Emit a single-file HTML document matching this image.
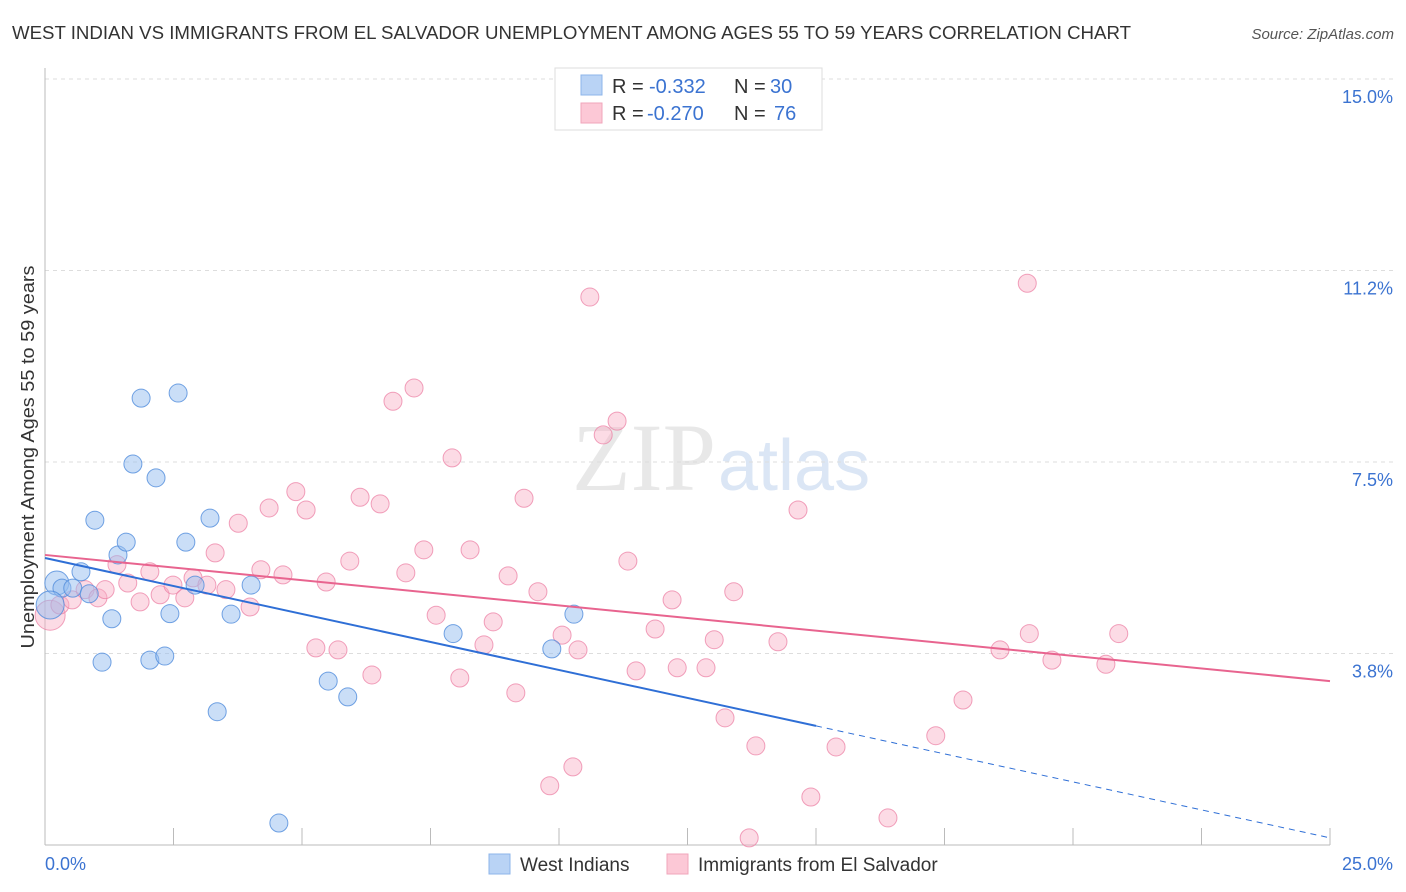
<!DOCTYPE html>
<html><head><meta charset="utf-8">
<style>
body{margin:0;background:#fff;font-family:"Liberation Sans",sans-serif;}
svg{display:block}
</style></head>
<body>
<svg id="chart" width="1406" height="892">
<text x="12" y="39" font-size="18" fill="#333" textLength="1119" lengthAdjust="spacingAndGlyphs">WEST INDIAN VS IMMIGRANTS FROM EL SALVADOR UNEMPLOYMENT AMONG AGES 55 TO 59 YEARS CORRELATION CHART</text>
<text x="1394" y="39" font-size="15" fill="#555" text-anchor="end" font-style="italic">Source: ZipAtlas.com</text>
<text x="716" y="490" font-size="96" fill="#e8e8e8" text-anchor="end" font-family="Liberation Serif">ZIP</text>
<text x="718" y="490" font-size="72" fill="#dbe6f5">atlas</text>
<g id="grid"></g>
<g id="marks"></g>
<text transform="translate(34,457) rotate(-90)" font-size="18" fill="#333" text-anchor="middle" textLength="383" lengthAdjust="spacingAndGlyphs">Unemployment Among Ages 55 to 59 years</text>
<g>
<rect x="555" y="68" width="267" height="62" fill="#fff" stroke="#ddd"/>
<rect x="581" y="75" width="21" height="20" fill="#b9d3f5" stroke="#8db4ea"/>
<rect x="581" y="103" width="21" height="20" fill="#fcc8d6" stroke="#f0a6bb"/>
<text x="612" y="93" font-size="20" fill="#333">R =</text>
<text x="649" y="93" font-size="20" fill="#3b73d1">-0.332</text>
<text x="734" y="93" font-size="20" fill="#333">N =</text>
<text x="770" y="93" font-size="20" fill="#3b73d1">30</text>
<text x="612" y="120" font-size="20" fill="#333">R =</text>
<text x="647" y="120" font-size="20" fill="#3b73d1">-0.270</text>
<text x="734" y="120" font-size="20" fill="#333">N =</text>
<text x="774" y="120" font-size="20" fill="#3b73d1">76</text>
</g>
<g>
<rect x="489" y="854" width="21" height="20" fill="#b9d3f5" stroke="#8db4ea"/>
<text x="520" y="871" font-size="19" fill="#333">West Indians</text>
<rect x="667" y="854" width="21" height="20" fill="#fcc8d6" stroke="#f0a6bb"/>
<text x="698" y="871" font-size="19" fill="#333">Immigrants from El Salvador</text>
</g>
</svg>
<script>
const yTicks=[15.0,11.25,7.5,3.75];
const yTickLabels=["15.0%","11.2%","7.5%","3.8%"];
const xTickLabels=["0.0%","25.0%"];
const blueX=[0.23,0.33,0.54,0.86,0.7,0.97,1.42,1.58,1.3,1.11,1.87,1.71,2.16,2.59,3.21,2.74,2.92,4.01,2.43,3.62,2.04,2.33,3.35,5.51,5.89,4.55,7.94,9.86,10.29,0.1];
const blueY=[5.13,5.03,5.03,4.92,5.35,6.36,5.68,5.93,4.43,3.58,8.75,7.46,7.19,8.85,6.4,5.93,5.09,5.09,4.53,4.52,3.62,3.7,2.61,3.21,2.9,0.43,4.14,3.84,4.52,4.7];
const blueR=[12,9,9,9,9,9,9,9,9,9,9,9,9,9,9,9,9,9,9,9,9,9,9,9,9,9,9,9,9,14];
const pinkX=[0.1,0.29,0.53,0.78,1.03,1.17,1.4,1.61,1.85,2.04,2.24,2.49,2.72,2.88,3.15,3.31,3.52,3.76,3.99,4.2,4.36,4.63,4.88,5.08,5.27,5.47,5.7,5.93,6.13,6.36,6.52,6.77,7.02,7.18,7.37,7.61,7.92,8.07,8.27,8.54,8.72,9.01,9.16,9.32,9.59,9.82,10.06,10.27,10.37,10.6,10.86,11.13,11.34,11.5,11.87,12.2,12.3,12.86,13.02,13.23,13.4,13.83,14.26,14.65,14.9,15.39,16.4,17.33,17.86,18.58,19.11,19.15,19.59,20.64,20.89,13.7];
const pinkY=[4.5,4.7,4.8,5.0,4.84,5.0,5.49,5.13,4.76,5.35,4.9,5.09,4.84,5.23,5.09,5.72,5.0,6.3,4.66,5.39,6.6,5.29,6.92,6.56,3.86,5.15,3.82,5.56,6.81,3.33,6.68,8.69,5.33,8.95,5.78,4.5,7.58,3.27,5.78,3.92,4.37,5.27,2.98,6.79,4.96,1.16,4.11,1.53,3.82,10.73,8.03,8.3,5.56,3.41,4.23,4.8,3.47,3.47,4.02,2.49,4.96,1.94,3.98,6.56,0.94,1.92,0.53,2.14,2.84,3.82,11.0,4.14,3.62,3.54,4.14,0.14];
const blueFit=[5.62,0.14];
const pinkFit=[5.68,3.21];
const NS="http://www.w3.org/2000/svg";
const X0=45,X1=1330,Y0=845,Y15=79;
function xs(v){return X0+(X1-X0)*v/25;}
function ys(v){return Y0-(Y0-Y15)*v/15;}
function mk(tag,attrs,parent){const e=document.createElementNS(NS,tag);for(const k in attrs)e.setAttribute(k,attrs[k]);parent.appendChild(e);return e;}
const grid=document.getElementById('grid'),marks=document.getElementById('marks');
yTicks.forEach((t,i)=>{
 const l=mk('line',{x1:X0,x2:1394,y1:ys(t),y2:ys(t),stroke:'#ddd','stroke-dasharray':'4,4'},grid);
 
 
 const tx=mk('text',{x:1393,y:ys(t)+24,'font-size':18,fill:'#3b73d1','text-anchor':'end'},grid);
 tx.textContent=yTickLabels[i];
 
 
});
const ax=mk('line',{x1:X0,x2:X0,y1:68,y2:Y0,stroke:'#bbb'},grid);


const bx=mk('line',{x1:X0,x2:X1,y1:Y0,y2:Y0,stroke:'#bbb'},grid);


for(let i=1;i<=10;i++){const t=mk('line',{x1:xs(i*2.5),x2:xs(i*2.5),y1:828,y2:Y0,stroke:'#bbb'},grid);
 
 }
[[0,'start',45],[25,'end',1393]].forEach((d,i)=>{const t=mk('text',{x:d[2],y:870,'font-size':18,fill:'#3b73d1','text-anchor':d[1]},grid);t.textContent=xTickLabels[i];
 
 });
pinkX.forEach((v,i)=>{const c=mk('circle',{cx:xs(v),cy:ys(pinkY[i]),r:i==0?15:9,fill:'rgba(248,175,198,0.45)',stroke:'rgba(236,130,165,0.75)','stroke-width':1},marks);
 
 });
blueX.forEach((v,i)=>{const c=mk('circle',{cx:xs(v),cy:ys(blueY[i]),r:blueR[i],fill:'rgba(150,190,240,0.5)',stroke:'rgba(80,140,220,0.8)','stroke-width':1},marks);
 
 });
function fit(f,x){return f[0]+(f[1]-f[0])*x/25;}
const bl=mk('line',{x1:xs(0),y1:ys(fit(blueFit,0)),x2:xs(15),y2:ys(fit(blueFit,15)),stroke:'#2f6fd6','stroke-width':2},marks);


const bd=mk('line',{x1:xs(15),y1:ys(fit(blueFit,15)),x2:xs(25),y2:ys(fit(blueFit,25)),stroke:'#2f6fd6','stroke-width':1,'stroke-dasharray':'6,5'},marks);


const pl=mk('line',{x1:xs(0),y1:ys(fit(pinkFit,0)),x2:xs(25),y2:ys(fit(pinkFit,25)),stroke:'#e8648f','stroke-width':2},marks);


</script>
</body></html>
